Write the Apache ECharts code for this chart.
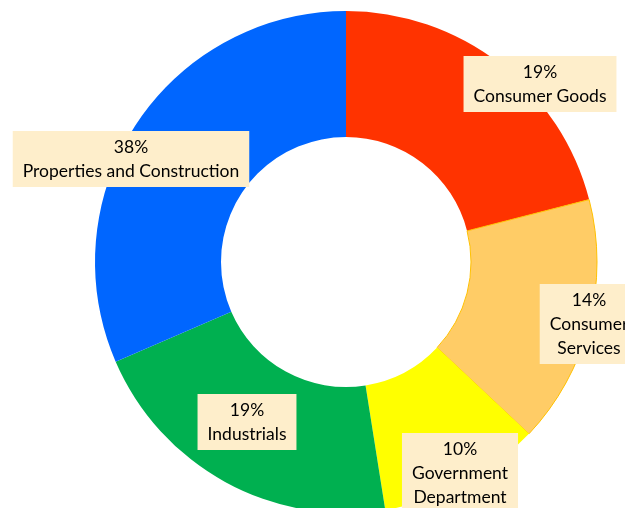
<!DOCTYPE html>
<html>
<head>
<meta charset="utf-8">
<script src="https://cdn.jsdelivr.net/npm/echarts@6/dist/echarts.min.js"></script>
<style>
  html, body { margin: 0; padding: 0; background: #fff; }
  #chart { width: 625px; height: 508px; }
</style>
</head>
<body>
<div id="chart"></div>
<script>
// 扇区名称（标签里的换行照原图）
const categories = ['Consumer Goods', 'Consumer\nServices', 'Government\nDepartment', 'Industrials', 'Properties and Construction']
// 扇区大小（按图上角度估读）
const values = [21, 16, 10.5, 21, 31.5]
// 标签上写的百分比
const shareLabels = ['19%', '14%', '10%', '19%', '38%']
const colors = ['#FF3300', '#FFCC66', '#FFFF00', '#00B050', '#0066FF']

// 标签框中心位置
const labelPos = [[540, 84], [589, 324], [460, 473], [247, 422], [131, 159]]

const chart = echarts.init(document.getElementById('chart'), null, { renderer: 'canvas' })

const data = categories.map((name, i) => ({
  name: name,
  value: values[i],
  itemStyle: {
    color: colors[i],
    // 橙色扇区有一圈细边
    borderColor: i === 1 ? '#FFC000' : colors[i],
    borderWidth: i === 1 ? 1 : 0
  }
}))

chart.setOption({
  animation: false,
  series: [{
    type: 'pie',
    center: [346, 262],
    radius: [125, 251],
    startAngle: 90,
    clockwise: true,
    avoidLabelOverlap: false,
    data: data,
    label: {
      show: true,
      position: 'inside',
      formatter: p => shareLabels[p.dataIndex] + '\n' + p.name,
      fontFamily: 'Lato',
      fontSize: 17.5,
      lineHeight: 24,
      color: '#000',
      align: 'center',
      verticalAlign: 'middle',
      backgroundColor: '#FEEECB',
      padding: [4, 10]
    },
    labelLine: { show: false },
    labelLayout: p => ({
      x: labelPos[p.dataIndex][0],
      y: labelPos[p.dataIndex][1]
    })
  }]
})
</script>
</body>
</html>
